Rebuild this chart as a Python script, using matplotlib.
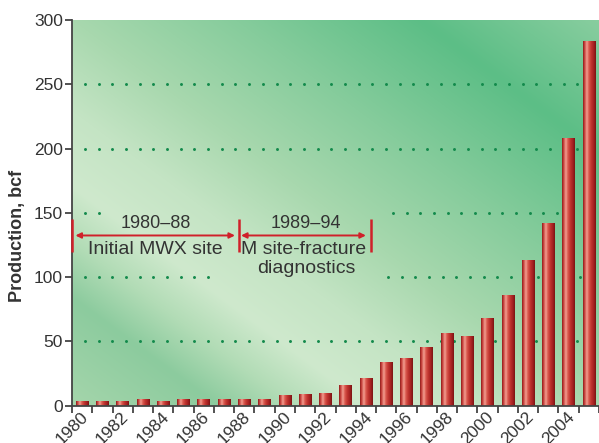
import numpy as np
import matplotlib
matplotlib.use("Agg")
import matplotlib.pyplot as plt
from matplotlib.colors import to_rgb, LinearSegmentedColormap

# Annual production, bcf
years = list(range(1980, 2006))
production = [3.5, 3.5, 3.5, 5, 3.5, 5, 5, 5, 5, 5, 8, 9, 10, 16, 21.5,
              34, 37, 46, 56.5, 54, 68, 86, 113.5, 142, 208.5, 284]
yticks = [0, 50, 100, 150, 200, 250, 300]
xtick_labels = [str(y) for y in years[::2]]

plt.rcParams['font.family'] = ['Liberation Sans', 'DejaVu Sans']
TEXT = '#333333'
RED = '#D0202A'

fig = plt.figure(figsize=(5.99, 4.43), dpi=100)
W, H = 599, 443
ax_left, ax_right, ax_top, ax_bot = 72, 599, 20, 405.7
ax = fig.add_axes([ax_left / W, (H - ax_bot) / H,
                   (ax_right - ax_left) / W, (ax_bot - ax_top) / H])

n = len(years)
x = np.arange(n)
ax.set_xlim(-0.5, n - 0.5)
ax.set_ylim(0, 300)

# Diagonal green background wash
pw, ph = int(ax_right - ax_left), int(ax_bot - ax_top)
px, py = np.meshgrid(np.arange(pw) + ax_left, np.arange(ph) + ax_top)
d = -0.594 * (px - 72) + 0.805 * (py - 185)
stops = [-520, -450, -340, -230, -133, -60, 0, 45, 90, 180, 300]
cols = ['#A8D8B2', '#8ACEA0', '#5CBE86', '#86CC9C', '#A8D8AE', '#C4E4C4',
        '#CFE9CD', '#B2DCB6', '#8CCB9E', '#A6D6AC', '#BADFBC']
rgb = np.array([to_rgb(c) for c in cols])
img = np.stack([np.interp(d, stops, rgb[:, k]) for k in range(3)], axis=-1)
ax.imshow(img, extent=(0, 1, 0, 1), transform=ax.transAxes, aspect='auto',
          zorder=0, interpolation='bilinear')

# Dotted reference lines (partial, leaving room for the annotations)
step = 13.68 / ((ax_right - ax_left) / n)
def px2x(p):
    return (p - ax_left) / ((ax_right - ax_left) / n) - 0.5
dot_spans = {
    250: [(85, 580)],
    200: [(85, 580)],
    150: [(85, 100), (393, 562)],
    100: [(85, 210), (388, 596)],
    50: [(85, 596)],
}
for yv, spans in dot_spans.items():
    for a, b in spans:
        xs = np.arange(px2x(a), px2x(b) + 1e-6, step)
        ax.scatter(xs, np.full_like(xs, yv), s=4.5, color='#138A4C',
                   linewidths=0, zorder=1)

# Cylindrical red bars
bar_cmap = LinearSegmentedColormap.from_list(
    'cyl', [(0.0, '#8E1C1C'), (0.1, '#C23A36'), (0.3, '#F3A092'),
            (0.45, '#DB5A50'), (0.65, '#BE332E'), (0.85, '#A22020'),
            (1.0, '#7A1414')])
width = 0.62
bars = ax.bar(x, production, width=width, color='#B83030', zorder=2,
              linewidth=0)
grad = np.linspace(0, 1, 64).reshape(1, -1)
for b in bars:
    x0 = b.get_x()
    im = ax.imshow(grad, cmap=bar_cmap, aspect='auto', zorder=2.5,
                   extent=(x0, x0 + b.get_width(), 0, b.get_height()),
                   interpolation='bilinear')
    im.set_clip_path(b)
ax.set_xlim(-0.5, n - 0.5)
ax.set_ylim(0, 300)

# Axes styling
for s in ['top', 'right']:
    ax.spines[s].set_visible(False)
for s in ['left', 'bottom']:
    ax.spines[s].set_color('#444444')
    ax.spines[s].set_linewidth(1.3)
ax.set_yticks(yticks)
ax.set_yticklabels([str(v) for v in yticks])
ax.set_xticks(np.arange(n + 1) - 0.5, minor=True)
ax.set_xticks(np.arange(0, n, 2) - 0.5)
ax.set_xticklabels(xtick_labels, rotation=45, ha='center')
ax.tick_params(axis='both', which='both', direction='out', length=5,
               width=1.3, color='#444444', labelsize=12.5, labelcolor=TEXT)
ax.tick_params(axis='y', pad=1.5)
ax.tick_params(axis='x', pad=-2.5)
fig.text(18 / W, 1 - 236 / H, 'Production, bcf', rotation=90,
         fontsize=13, fontweight='bold', color=TEXT, ha='center', va='center')

# Period annotations
def bracket(xp):
    ax.plot([xp, xp], [119.5, 145.3], color=RED, lw=1.8, zorder=5,
            clip_on=False, solid_capstyle='butt')
bracket(-0.5)
bracket(7.72)
bracket(14.23)
arrow = dict(arrowstyle='<|-|>', color=RED, lw=1.4, mutation_scale=8,
             shrinkA=0, shrinkB=0)
ax.annotate('', xy=(-0.33, 132.4), xytext=(7.54, 132.4), arrowprops=arrow,
            zorder=5)
ax.annotate('', xy=(7.84, 132.4), xytext=(14.0, 132.4), arrowprops=arrow,
            zorder=5)
tk = dict(color=TEXT, ha='center', va='center', zorder=6)
ax.text(3.63, 142, '1980–88', fontsize=13, **tk)
ax.text(3.62, 121.8, 'Initial MWX site', fontsize=14, **tk)
ax.text(11.06, 142, '1989–94', fontsize=13, **tk)
ax.text(10.94, 121.8, 'M site-fracture', fontsize=14, **tk)
ax.text(11.06, 107, 'diagnostics', fontsize=14, **tk)

fig.savefig('out.png', dpi=100)
